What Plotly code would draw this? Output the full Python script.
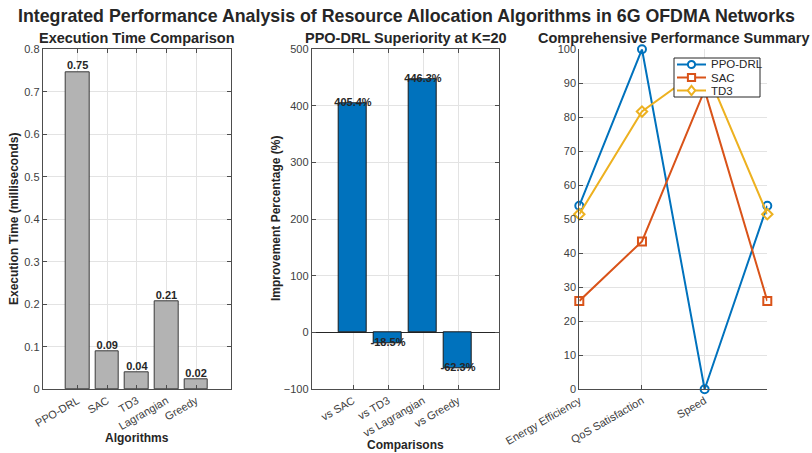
import plotly.graph_objects as go

# Execution time per algorithm (ms)
algorithms = ["PPO-DRL", "SAC", "TD3", "Lagrangian", "Greedy"]
exec_time_ms = [0.747, 0.089, 0.040, 0.206, 0.023]

# PPO-DRL improvement over each baseline at K=20 (%)
comparisons = ["vs SAC", "vs TD3", "vs Lagrangian", "vs Greedy"]
improvement_pct = [405.4, -18.5, 446.3, -62.3]

# Normalised performance scores (closed loop back to the first metric)
metrics = ["Energy Efficiency", "QoS Satisfaction", "Speed", ""]
score_ppo = [54.0, 100.0, 0.0, 54.0]
score_sac = [26.0, 43.5, 88.0, 26.0]
score_td3 = [51.5, 81.7, 95.0, 51.5]

FONT = "Liberation Sans, Arial, sans-serif"
AX_COL = "#4d4d4d"
GRID = "#e3e3e3"
TXT = "#262626"

W, H = 812, 453
top_px, bot_px = 49.3, 389.3
ydom = [1 - bot_px / H, 1 - top_px / H]
xd1 = [42.7 / W, 231.0 / W]
xd2 = [311.7 / W, 499.3 / W]
xd3 = [579.3 / W, 767.3 / W]

fig = go.Figure()

pos1 = list(range(1, len(algorithms) + 1))
fig.add_trace(go.Bar(
    x=pos1, y=exec_time_ms, width=0.8, marker=dict(color="#b3b3b3", line=dict(color="#3a3a3a", width=1)),
    xaxis="x", yaxis="y", showlegend=False))
fig.add_trace(go.Scatter(
    x=pos1, y=exec_time_ms, mode="text", text=[f"<b>{v:.2f}</b>" for v in exec_time_ms],
    textposition="top center", textfont=dict(family=FONT, size=11, color=TXT),
    xaxis="x", yaxis="y", showlegend=False, cliponaxis=False))

pos2 = list(range(1, len(comparisons) + 1))
fig.add_trace(go.Bar(
    x=pos2, y=improvement_pct, width=0.8, marker=dict(color="#0072BD", line=dict(color="#1a1a1a", width=1)),
    xaxis="x2", yaxis="y2", showlegend=False))
fig.add_trace(go.Scatter(
    x=pos2, y=improvement_pct, mode="text", text=[f"<b>{v:.1f}%</b>" for v in improvement_pct],
    textposition="middle center", textfont=dict(family=FONT, size=11, color=TXT),
    xaxis="x2", yaxis="y2", showlegend=False, cliponaxis=False))

series = [("PPO-DRL", score_ppo, "#0072BD", "circle-open"),
          ("SAC", score_sac, "#D95319", "square-open"),
          ("TD3", score_td3, "#EDB120", "diamond-open")]

pos3 = list(range(1, len(metrics) + 1))
for name, vals, col, sym in series:
    fig.add_trace(go.Scatter(
        x=pos3, y=vals, mode="lines+markers", name=name, showlegend=False,
        line=dict(color=col, width=2), marker=dict(symbol=sym, size=8, color=col, line=dict(width=2, color=col)),
        xaxis="x3", yaxis="y3", cliponaxis=False))

tickfont = dict(family=FONT, size=11, color="#404040")
common_x = dict(showgrid=True, gridcolor=GRID, ticks="inside", ticklen=4, tickcolor=AX_COL, automargin=False,
                showline=True, linecolor=AX_COL, linewidth=1, tickangle=-30, tickfont=tickfont, zeroline=False)
common_y = dict(showgrid=True, gridcolor=GRID, ticks="inside", ticklen=4, tickcolor=AX_COL, automargin=False,
                showline=True, linecolor=AX_COL, linewidth=1, tickfont=tickfont, zeroline=False)

fig.update_layout(
    width=W, height=H, margin=dict(l=0, r=0, t=0, b=0),
    paper_bgcolor="white", plot_bgcolor="white",
    font=dict(family=FONT, color=TXT),
    bargap=0, showlegend=False,
    xaxis=dict(common_x, domain=xd1, anchor="y", range=[-0.18, 6.18], tickmode="array",
               tickvals=pos1, ticktext=algorithms, mirror="ticks"),
    yaxis=dict(common_y, domain=ydom, anchor="x", range=[0, 0.8], dtick=0.1, mirror="ticks"),
    xaxis2=dict(common_x, domain=xd2, anchor="y2", range=[-0.18, 5.18], tickmode="array",
                tickvals=pos2, ticktext=comparisons, mirror="ticks"),
    yaxis2=dict(common_y, domain=ydom, anchor="x2", range=[-100, 500], dtick=100, mirror="ticks",
                zeroline=True, zerolinecolor="#262626", zerolinewidth=1),
    xaxis3=dict(common_x, domain=xd3, anchor="y3", range=[1, 4], tickmode="array",
                tickvals=pos3, ticktext=metrics),
    yaxis3=dict(common_y, domain=ydom, anchor="x3", range=[0, 100], dtick=10),
)

ann = []
def text(x, y, s, size, bold=True, angle=0, xanchor="center"):
    ann.append(dict(x=x / W, y=1 - y / H, xref="paper", yref="paper", text=f"<b>{s}</b>" if bold else s,
                    showarrow=False, xanchor=xanchor, yanchor="middle", textangle=angle,
                    font=dict(family=FONT, size=size, color=TXT)))

text(406, 16, "Integrated Performance Analysis of Resource Allocation Algorithms in 6G OFDMA Networks", 17.8)
text(137, 38, "Execution Time Comparison", 14.5)
text(405.5, 38, "PPO-DRL Superiority at K=20", 14.5)
text(673.5, 38, "Comprehensive Performance Summary", 14.5)
text(137, 438, "Algorithms", 12)
text(405, 445, "Comparisons", 12)
text(14, 219, "Execution Time (milliseconds)", 12, angle=-90)
text(276, 219, "Improvement Percentage (%)", 12, angle=-90)

# Compact legend box for the summary panel
shapes = []
def px(x):
    return x / W
def py(y):
    return 1 - y / H

lx0, ly0, lx1, ly1 = 674, 58, 760, 97
shapes.append(dict(type="rect", xref="paper", yref="paper", x0=px(lx0), x1=px(lx1), y0=py(ly1), y1=py(ly0),
                   line=dict(color="#262626", width=1), fillcolor="white", layer="above"))
row_h = 13
for i, (name, _, col, sym) in enumerate(series):
    cy = ly0 + 6.5 + i * row_h
    shapes.append(dict(type="line", xref="paper", yref="paper", x0=px(677), x1=px(706), y0=py(cy), y1=py(cy),
                       line=dict(color=col, width=2), layer="above"))
    mx, r = 691.5, 3.6
    if sym.startswith("circle"):
        shapes.append(dict(type="circle", xref="paper", yref="paper", x0=px(mx - r), x1=px(mx + r),
                           y0=py(cy + r), y1=py(cy - r), line=dict(color=col, width=2), fillcolor="white", layer="above"))
    elif sym.startswith("square"):
        shapes.append(dict(type="rect", xref="paper", yref="paper", x0=px(mx - r), x1=px(mx + r),
                           y0=py(cy + r), y1=py(cy - r), line=dict(color=col, width=2), fillcolor="white", layer="above"))
    else:
        d = r + 1
        path = (f"M {px(mx)} {py(cy - d)} L {px(mx + d * 0.8)} {py(cy)} L {px(mx)} {py(cy + d)} "
                f"L {px(mx - d * 0.8)} {py(cy)} Z")
        shapes.append(dict(type="path", xref="paper", yref="paper", path=path,
                           line=dict(color=col, width=2), fillcolor="white", layer="above"))
    text(709, cy, name, 11.5, bold=False, xanchor="left")

fig.update_layout(annotations=ann, shapes=shapes)

fig.write_html("out.html")
